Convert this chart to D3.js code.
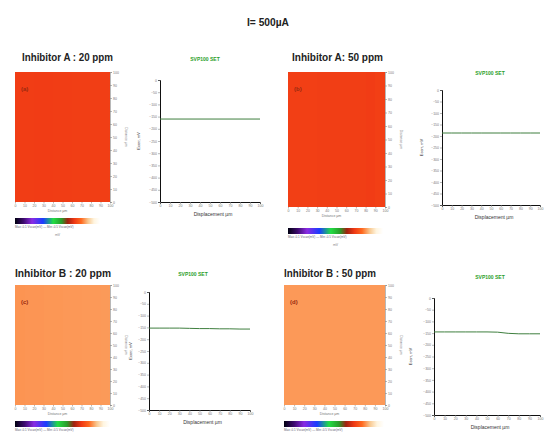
<!DOCTYPE html>
<html>
<head>
<meta charset="utf-8">
<script src="https://cdn.jsdelivr.net/npm/d3@7"></script>
<style>
  body { margin: 0; background: #fff; }
  svg { display: block; }
  text { font-family: "Liberation Sans", Arial, sans-serif; }
</style>
</head>
<body>
<svg id="fig" width="545" height="433"></svg>
<script>
// ---- data ----
const panelTitles = ['Inhibitor A : 20 ppm', 'Inhibitor A: 50 ppm', 'Inhibitor B : 20 ppm', 'Inhibitor B : 50 ppm']
const panelTags = ['(a)', '(b)', '(c)', '(d)']
const chartTitle = 'SVP100 SET'

// colour map stops (value -> colour), as shown in the colour bars
const cmapStops = [0, 0.1, 0.2, 0.33, 0.45, 0.55, 0.62, 0.7, 0.78, 0.86, 0.93, 1]
const cmapColors = ['#000010', '#3c0a6e', '#8a2be2', '#1a3cff', '#22dd44', '#2a9a2a', '#a02010', '#f03a14', '#ff6a20', '#f8c890', '#fff5e0', '#ffffff']

// map values, one per column band (scan is almost uniform)
const mapA20 = [0.705, 0.705, 0.704, 0.704, 0.705, 0.705, 0.706, 0.706, 0.707, 0.707]
const mapA50 = [0.708, 0.708, 0.708, 0.707, 0.707, 0.707, 0.707, 0.707, 0.704, 0.708]
const mapB20 = [0.816, 0.817, 0.817, 0.818, 0.818, 0.819, 0.819, 0.82, 0.82, 0.821]
const mapB50 = [0.82, 0.82, 0.82, 0.82, 0.82, 0.82, 0.82, 0.82, 0.82, 0.82]

// line scans: displacement (µm) vs potential (mV)
const displacement = [0, 10, 20, 30, 40, 50, 60, 70, 80, 90, 100]
const lineA20 = [-160, -160, -160, -160, -160, -160, -160, -160, -160, -160, -160]
const lineA50 = [-187, -187, -187, -187, -187, -187, -187, -187, -187, -187, -187]
const lineB20 = [-153, -153, -153, -153, -154, -155, -155, -156, -156, -157, -157]
const lineB50 = [-145, -145, -145, -145, -145, -145, -146, -151, -153, -153, -153]
const potDomain = [-500, 0]

// ---- layout ----
const panels = [
  { title: panelTitles[0], tag: panelTags[0], map: mapA20, line: lineA20,
    tx: 22, ty: 61, tw: 91,
    m: { x0: 15, x1: 110, y0: 72, y1: 202, bar: 218, barW: 85 },
    c: { x0: 160, x1: 260, y0: 80, y1: 202, titleX: 205, titleY: 61, ylabX: 140 } },
  { title: panelTitles[1], tag: panelTags[1], map: mapA50, line: lineA50,
    tx: 292, ty: 61, tw: 91,
    m: { x0: 288, x1: 385, y0: 72, y1: 207, bar: 228, barW: 95 },
    c: { x0: 442, x1: 540, y0: 90, y1: 205, titleX: 490, titleY: 75, ylabX: 423 } },
  { title: panelTitles[2], tag: panelTags[2], map: mapB20, line: lineB20,
    tx: 15, ty: 277, tw: 96,
    m: { x0: 15, x1: 110, y0: 285, y1: 405, bar: 421, barW: 95 },
    c: { x0: 149, x1: 250, y0: 292, y1: 410, titleX: 193, titleY: 276, ylabX: 132 } },
  { title: panelTitles[3], tag: panelTags[3], map: mapB50, line: lineB50,
    tx: 284, ty: 277, tw: 92,
    m: { x0: 284, x1: 385, y0: 285, y1: 405, bar: 421, barW: 100 },
    c: { x0: 434, x1: 540, y0: 298, y1: 415, titleX: 490, titleY: 279, ylabX: 412 } }
]

const H = 433
const svg = d3.select('#fig')
const cmap = d3.scaleLinear().domain(cmapStops).range(cmapColors).clamp(true)
const fmt = d3.format('d')

// main title
svg.append('text')
  .attr('x', 268).attr('y', 26)
  .attr('text-anchor', 'middle')
  .attr('textLength', 42).attr('lengthAdjust', 'spacingAndGlyphs')
  .style('font-size', '10px').style('font-weight', 700)
  .style('fill', '#222')
  .text('I= 500µA')

function styleTinyAxis (g) {
  g.selectAll('.domain').attr('stroke', '#888').attr('stroke-width', 0.6)
  g.selectAll('.tick line').attr('stroke', '#888').attr('stroke-width', 0.6)
  g.selectAll('.tick text').style('font-size', '3.5px').style('fill', '#777')
}

function drawMap (p) {
  const m = p.m
  const xb = d3.scaleBand().domain(d3.range(p.map.length)).range([m.x0, m.x1])
  const xs = d3.scaleLinear().domain([0, 100]).range([m.x0, m.x1])
  const ys = d3.scaleLinear().domain([0, 100]).range([m.y1, m.y0])

  svg.append('g').selectAll('rect')
    .data(p.map)
    .enter().append('rect')
    .attr('x', (d, i) => xb(i))
    .attr('y', m.y0)
    .attr('width', (d, i) => i === p.map.length - 1 ? xb.bandwidth() : xb.bandwidth() + 1)
    .attr('height', m.y1 - m.y0)
    .attr('fill', d => cmap(d))
    .attr('shape-rendering', 'crispEdges')

  // tag
  svg.append('text')
    .attr('x', m.x0 + 6).attr('y', m.y0 + 19)
    .style('font-size', '6px').style('font-weight', 700)
    .style('fill', '#9a2a10')
    .text(p.tag)

  // right axis + bottom axis
  const ra = svg.append('g')
    .attr('transform', `translate(${m.x1},0)`)
    .call(d3.axisRight(ys).ticks(10).tickSize(2).tickPadding(1).tickFormat(fmt))
  styleTinyAxis(ra)
  svg.append('text')
    .attr('transform', `translate(${m.x1 + 15},${(m.y0 + m.y1) / 2}) rotate(90)`)
    .attr('text-anchor', 'middle')
    .style('font-size', '3.5px').style('fill', '#888')
    .text('Distance µm')

  const ba = svg.append('g')
    .attr('transform', `translate(0,${m.y1})`)
    .call(d3.axisBottom(xs).ticks(10).tickSize(1.5).tickPadding(1).tickFormat(fmt))
  styleTinyAxis(ba)
  ba.select('.domain').remove()
  svg.append('text')
    .attr('x', (m.x0 + m.x1) / 2 - 5).attr('y', m.y1 + 10)
    .attr('text-anchor', 'middle')
    .style('font-size', '3.5px').style('fill', '#777')
    .text('Distance µm')

  // colour bar
  const gradId = 'cb' + p.tag.replace(/\W/g, '')
  const grad = svg.append('defs').append('linearGradient').attr('id', gradId)
  grad.selectAll('stop')
    .data(cmapStops)
    .enter().append('stop')
    .attr('offset', d => d * 100 + '%')
    .attr('stop-color', d => cmap(d))
  svg.append('rect')
    .attr('x', m.x0).attr('y', m.bar)
    .attr('width', m.barW).attr('height', 6)
    .attr('fill', `url(#${gradId})`)
  const capY = Math.min(m.bar + 10, H - 2)
  svg.append('text')
    .attr('x', m.x0).attr('y', capY)
    .style('font-size', '3px').style('fill', '#667')
    .text('Max:-0.1 Vscan(mV) — Min:-0.5 Vscan(mV)')
  if (m.bar + 18 < H - 2) {
    svg.append('text')
      .attr('x', m.x0 + m.barW / 2).attr('y', m.bar + 18)
      .attr('text-anchor', 'middle')
      .style('font-size', '3.5px').style('fill', '#888')
      .text('mV')
  }
}

function drawChart (p) {
  const c = p.c
  const x = d3.scaleLinear().domain([0, 100]).range([c.x0, c.x1])
  const y = d3.scaleLinear().domain(potDomain).range([c.y1, c.y0])

  svg.append('text')
    .attr('x', c.titleX).attr('y', c.titleY)
    .attr('text-anchor', 'middle')
    .style('font-size', '5px').style('font-weight', 700)
    .style('fill', '#2aa02a')
    .text(chartTitle)

  const ya = svg.append('g')
    .attr('transform', `translate(${c.x0},0)`)
    .call(d3.axisLeft(y).ticks(10).tickSize(2).tickPadding(1).tickFormat(fmt))
  styleTinyAxis(ya)
  ya.select('.domain').attr('stroke', '#111').attr('stroke-width', 1)

  const xa = svg.append('g')
    .attr('transform', `translate(0,${c.y1})`)
    .call(d3.axisBottom(x).ticks(10).tickSize(2).tickPadding(1).tickFormat(fmt))
  styleTinyAxis(xa)
  xa.select('.domain').attr('stroke', '#111').attr('stroke-width', 1)

  svg.append('text')
    .attr('x', (c.x0 + c.x1) / 2 + 3).attr('y', c.y1 + 14)
    .attr('text-anchor', 'middle')
    .style('font-size', '5px').style('fill', '#333')
    .text('Displacement µm')

  svg.append('text')
    .attr('transform', `translate(${c.ylabX},${(c.y0 + c.y1) / 2}) rotate(-90)`)
    .attr('text-anchor', 'middle')
    .style('font-size', '4px').style('fill', '#333')
    .text('Ecorr, mV')

  const line = d3.line()
    .x((d, i) => x(displacement[i]))
    .y(d => y(d))
  svg.append('path')
    .datum(p.line)
    .attr('d', line)
    .attr('fill', 'none')
    .attr('stroke', '#3f7f3f')
    .attr('stroke-width', 1)
}

panels.forEach(p => {
  svg.append('text')
    .attr('x', p.tx).attr('y', p.ty)
    .attr('textLength', p.tw).attr('lengthAdjust', 'spacingAndGlyphs')
    .style('font-size', '10px').style('font-weight', 700)
    .style('fill', '#222')
    .text(p.title)
  drawMap(p)
  drawChart(p)
})
</script>
</body>
</html>
